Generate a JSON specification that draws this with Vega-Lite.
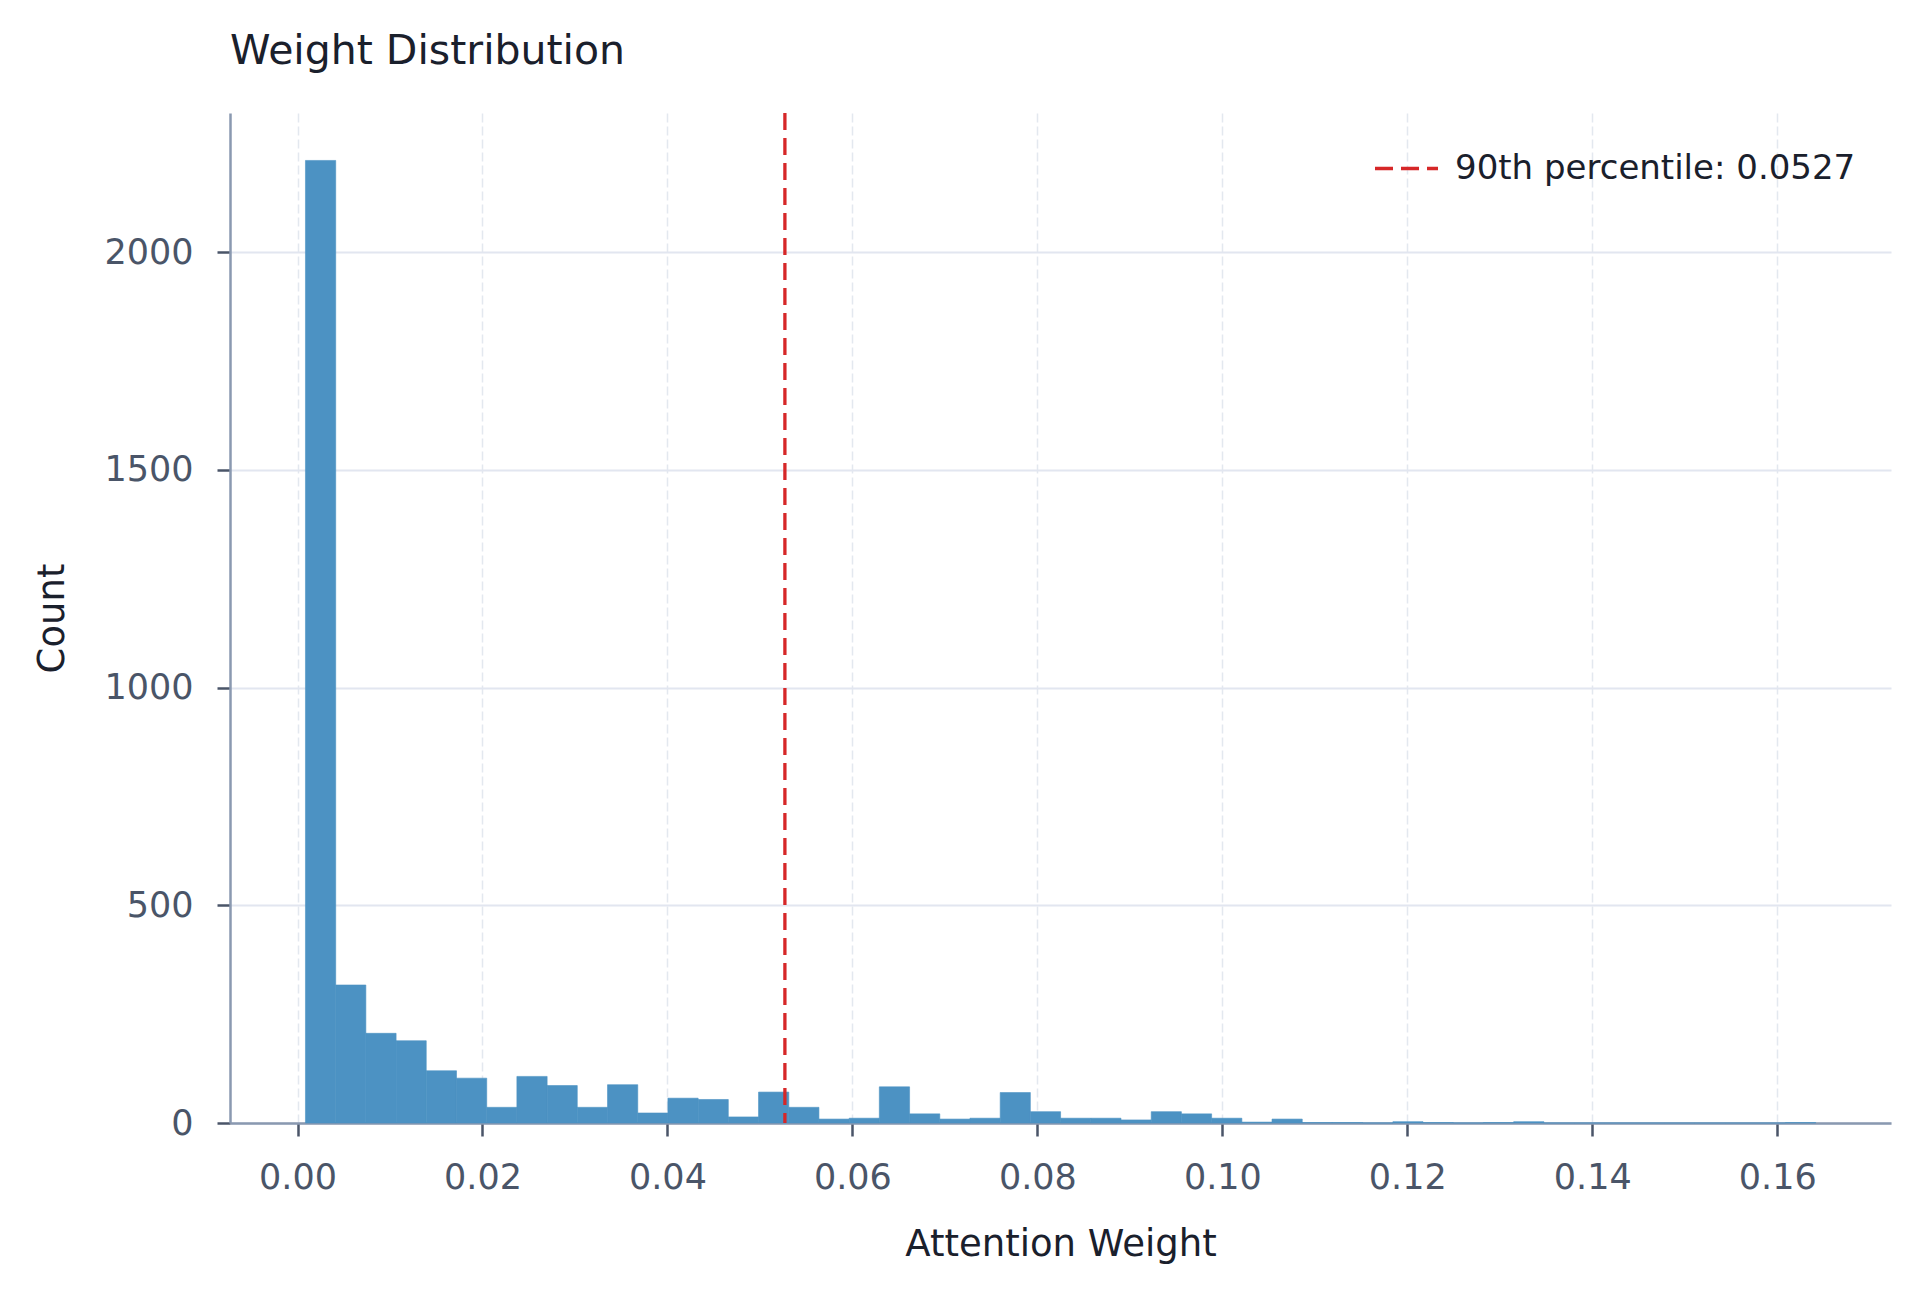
{
  "$schema": "https://vega.github.io/schema/vega-lite/v6.json",
  "width": 1661,
  "height": 1010,
  "autosize": {"type": "none"},
  "padding": {"left": 230, "top": 113, "right": 29, "bottom": 169},
  "background": "white",
  "title": {
    "text": "Weight Distribution",
    "anchor": "start",
    "frame": "group",
    "font": "DejaVu Sans",
    "fontSize": 41,
    "fontWeight": "normal",
    "color": "#1a202c",
    "offset": 38
  },
  "config": {
    "view": {"stroke": null},
    "font": "DejaVu Sans",
    "axis": {
      "domainColor": "#8a99b0",
      "domainWidth": 2.5,
      "tickColor": "#4a5568",
      "tickWidth": 2.5,
      "tickSize": 13,
      "labelPadding": 24,
      "labelFontSize": 35,
      "labelColor": "#4a5568",
      "titleFontSize": 37,
      "titleFontWeight": "normal",
      "titleColor": "#1a202c"
    }
  },
  "layer": [
    {
      "data": {
        "values": [
          {"bin_start": 0.00086, "bin_end": 0.00413, "count": 2211},
          {"bin_start": 0.00413, "bin_end": 0.00739, "count": 317},
          {"bin_start": 0.00739, "bin_end": 0.01066, "count": 206},
          {"bin_start": 0.01066, "bin_end": 0.01392, "count": 189},
          {"bin_start": 0.01392, "bin_end": 0.01719, "count": 120},
          {"bin_start": 0.01719, "bin_end": 0.02046, "count": 103},
          {"bin_start": 0.02046, "bin_end": 0.02372, "count": 36},
          {"bin_start": 0.02372, "bin_end": 0.02699, "count": 107},
          {"bin_start": 0.02699, "bin_end": 0.03025, "count": 86},
          {"bin_start": 0.03025, "bin_end": 0.03352, "count": 36},
          {"bin_start": 0.03352, "bin_end": 0.03679, "count": 88},
          {"bin_start": 0.03679, "bin_end": 0.04005, "count": 23},
          {"bin_start": 0.04005, "bin_end": 0.04332, "count": 57},
          {"bin_start": 0.04332, "bin_end": 0.04658, "count": 54},
          {"bin_start": 0.04658, "bin_end": 0.04985, "count": 14},
          {"bin_start": 0.04985, "bin_end": 0.05312, "count": 71},
          {"bin_start": 0.05312, "bin_end": 0.05638, "count": 36},
          {"bin_start": 0.05638, "bin_end": 0.05965, "count": 9},
          {"bin_start": 0.05965, "bin_end": 0.06291, "count": 11},
          {"bin_start": 0.06291, "bin_end": 0.06618, "count": 83},
          {"bin_start": 0.06618, "bin_end": 0.06945, "count": 21},
          {"bin_start": 0.06945, "bin_end": 0.07271, "count": 9},
          {"bin_start": 0.07271, "bin_end": 0.07598, "count": 11},
          {"bin_start": 0.07598, "bin_end": 0.07924, "count": 70},
          {"bin_start": 0.07924, "bin_end": 0.08251, "count": 26},
          {"bin_start": 0.08251, "bin_end": 0.08578, "count": 11},
          {"bin_start": 0.08578, "bin_end": 0.08904, "count": 11},
          {"bin_start": 0.08904, "bin_end": 0.09231, "count": 7},
          {"bin_start": 0.09231, "bin_end": 0.09557, "count": 26},
          {"bin_start": 0.09557, "bin_end": 0.09884, "count": 21},
          {"bin_start": 0.09884, "bin_end": 0.10211, "count": 11},
          {"bin_start": 0.10211, "bin_end": 0.10537, "count": 2},
          {"bin_start": 0.10537, "bin_end": 0.10864, "count": 9},
          {"bin_start": 0.10864, "bin_end": 0.1119, "count": 1},
          {"bin_start": 0.1119, "bin_end": 0.11517, "count": 1},
          {"bin_start": 0.11517, "bin_end": 0.11844, "count": 0},
          {"bin_start": 0.11844, "bin_end": 0.1217, "count": 3},
          {"bin_start": 0.1217, "bin_end": 0.12497, "count": 1},
          {"bin_start": 0.12497, "bin_end": 0.12823, "count": 0},
          {"bin_start": 0.12823, "bin_end": 0.1315, "count": 1},
          {"bin_start": 0.1315, "bin_end": 0.13477, "count": 3},
          {"bin_start": 0.13477, "bin_end": 0.13803, "count": 0},
          {"bin_start": 0.13803, "bin_end": 0.1413, "count": 0},
          {"bin_start": 0.1413, "bin_end": 0.14456, "count": 0},
          {"bin_start": 0.14456, "bin_end": 0.14783, "count": 0},
          {"bin_start": 0.14783, "bin_end": 0.1511, "count": 0},
          {"bin_start": 0.1511, "bin_end": 0.15436, "count": 0},
          {"bin_start": 0.15436, "bin_end": 0.15763, "count": 0},
          {"bin_start": 0.15763, "bin_end": 0.16089, "count": 0},
          {"bin_start": 0.16089, "bin_end": 0.16416, "count": 1}
        ]
      },
      "mark": {"type": "rect", "fill": "#4c92c3", "stroke": "#4c92c3", "strokeWidth": 0.6},
      "encoding": {
        "x": {
          "field": "bin_start",
          "type": "quantitative",
          "scale": {"domain": [-0.0073, 0.1723], "nice": false, "zero": false},
          "axis": {
            "values": [0, 0.02, 0.04, 0.06, 0.08, 0.1, 0.12, 0.14, 0.16],
            "format": ".2f",
            "title": "Attention Weight",
            "titlePadding": 31,
            "grid": true,
            "gridDash": [9, 4],
            "gridColor": "#e3e8ef",
            "gridWidth": 1.5
          }
        },
        "x2": {"field": "bin_end"},
        "y": {
          "field": "count",
          "type": "quantitative",
          "scale": {"domain": [0, 2320], "nice": false},
          "axis": {
            "values": [0, 500, 1000, 1500, 2000],
            "format": "d",
            "title": "Count",
            "titlePadding": 32,
            "grid": true,
            "gridColor": "#e2e6f0",
            "gridWidth": 2
          }
        },
        "y2": {"datum": 0}
      }
    },
    {
      "data": {"values": [{"p90": 0.0527}]},
      "mark": {"type": "rule", "strokeWidth": 3.3, "strokeDash": [17, 8]},
      "encoding": {
        "x": {"field": "p90", "type": "quantitative"},
        "stroke": {
          "datum": "90th percentile: 0.0527",
          "type": "nominal",
          "scale": {"range": ["#d62728"]},
          "legend": {
            "orient": "none",
            "legendX": 1143,
            "legendY": 22,
            "title": null,
            "padding": 0,
            "symbolType": "stroke",
            "symbolSize": 3969,
            "symbolStrokeWidth": 3.3,
            "symbolDash": [18, 8],
            "labelFontSize": 34,
            "labelLimit": 600,
            "labelColor": "#1a202c",
            "labelOffset": 15
          }
        }
      }
    }
  ]
}
